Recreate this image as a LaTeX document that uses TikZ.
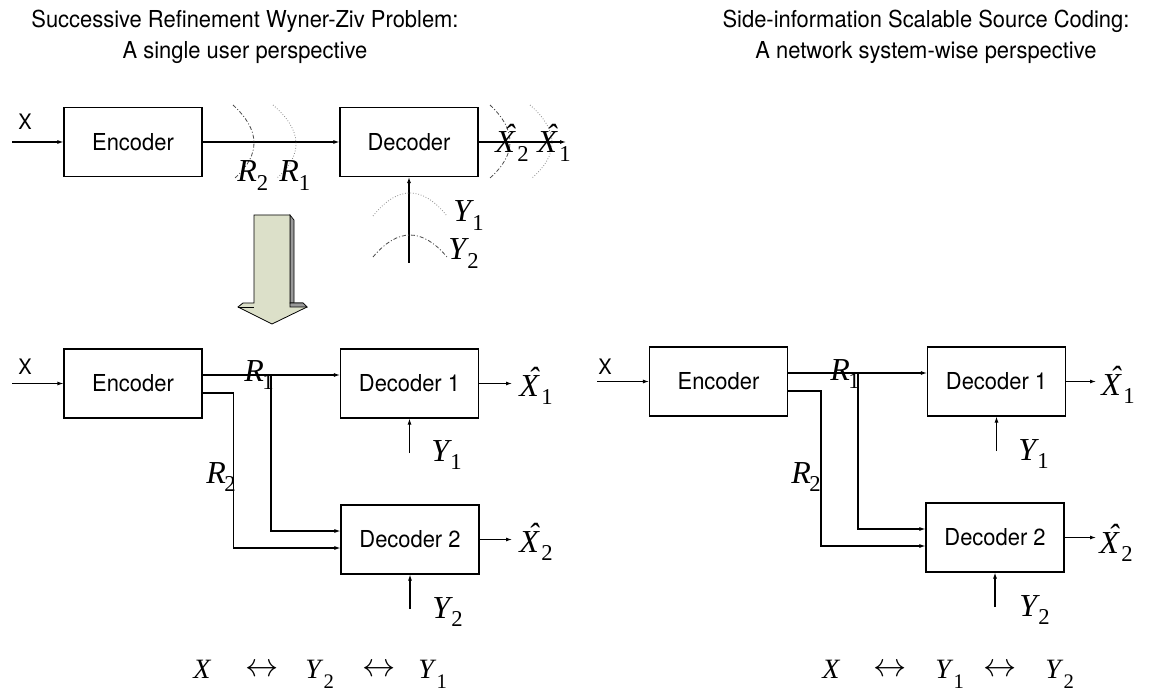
\documentclass[tikz,border=0pt]{standalone}
\usepackage{fontspec}
\setmainfont{Liberation Serif}
\newfontfamily\hv[FakeStretch=0.94]{TeX Gyre Heros}
\usetikzlibrary{arrows.meta}

% italic symbol with a lowered subscript
\newcommand\ml[3][1pt]{{\fontsize{24}{24}\selectfont\itshape #2}\kern#1\raisebox{-6.5pt}{\fontsize{17}{17}\selectfont #3}}
% variant for the Markov chains
\newcommand\mk[2]{{\fontsize{21}{21}\selectfont\itshape #1}\kern2pt\raisebox{-7.5pt}{\fontsize{15.5}{15.5}\selectfont #2}}
% X with a circumflex
\newcommand\hx{\makebox[0pt][l]{\hspace{0.27em}\raisebox{0.2em}{\char"02C6}}X}

\definecolor{arrowfill}{HTML}{DCE0C9}

\tikzset{
  blk/.style={draw, line width=0.8pt, minimum width=103.5pt, minimum height=51.75pt,
              inner sep=0pt, font=\hv\fontsize{17.5}{19}\selectfont},
  conn/.style={line width=0.8pt, -{Latex[length=4.5pt,width=3pt]}},
  lab/.style={anchor=base west, inner sep=0pt},
  sflab/.style={font=\hv\fontsize{16}{18}\selectfont, inner sep=0pt},
  ttl/.style={font=\hv\fontsize{17.5}{19}\selectfont, inner sep=0pt, anchor=base},
  dasharc/.style={line width=0.6pt, black!70, dash pattern=on 3pt off 1.5pt on 0.8pt off 1.5pt},
  dotarc/.style={line width=0.6pt, black!45, dash pattern=on 0.6pt off 1.4pt},
  arrsym/.style={inner sep=0pt, font=\fontsize{26}{26}\selectfont}
}

\begin{document}
\begin{tikzpicture}[x=0.75pt,y=-0.75pt]
\fill[white] (0,0) rectangle (1159,691);
\useasboundingbox (0,0) rectangle (1159,691);

% ---------- titles ----------
\node[ttl] at (245,28) {Successive Refinement Wyner-Ziv Problem:};
\node[ttl] at (245,59) {A single user perspective};
\node[ttl] at (926,28) {Side-information Scalable Source Coding:};
\node[ttl] at (926,59) {A network system-wise perspective};

% ---------- single user system ----------
\node[blk] (enc1) at (133,142) {Encoder};
\node[blk] (dec1) at (409,142) {Decoder};
\coordinate (x1) at (12,142);
\coordinate (out1) at (566,142);
\coordinate (y1src) at (409,263);
\draw[conn] (x1) -- (enc1);
\draw[conn] (enc1) -- (dec1);
\draw[conn] (dec1) -- (out1);
\draw[conn] (y1src) -- (dec1);

% rate and reconstruction layers
\draw[dasharc] (233,105) .. controls (260.3,130) and (261,154.3) .. (235,178);
\draw[dotarc]  (273,105) .. controls (302.3,130) and (303.7,154.3) .. (277,178);
\draw[dasharc] (490,105) .. controls (516.7,130) and (516.7,154.3) .. (490,178);
\draw[dotarc]  (530,105) .. controls (558.7,130) and (559.3,154.3) .. (532,178);
\draw[dotarc]  (373,216) .. controls (397.7,185.3) and (422.3,185.3) .. (447,216);
\draw[dasharc] (373,257) .. controls (397.7,227.7) and (422.3,227.7) .. (447,257);

\node[sflab] at (25,122) {X};
\node[lab] at (237,182) {\ml[0pt]{R}{2}};
\node[lab] at (279,182) {\ml[0pt]{R}{1}};
\node[lab] at (495,153) {\ml[2pt]{\hx}{2}};
\node[lab] at (537,153) {\ml[2pt]{\hx}{1}};
\node[lab] at (453,222) {\ml{Y}{1}};
\node[lab] at (448,260) {\ml{Y}{2}};

% ---------- transition arrow ----------
\filldraw[fill=black!40, line width=0.5pt] (290,215) -- (294,220) -- (294,303) -- (290,303) -- cycle;
\filldraw[fill=arrowfill, line width=0.6pt]
  (254,215) -- (290,215) -- (290,303) -- (303,303) -- (307,307) -- (272,324)
  -- (238,307) -- (243,303) -- (254,303) -- cycle;
\filldraw[fill=black!40, line width=0.5pt] (290,303) -- (303,303) -- (307,307) -- (290,307) -- cycle;
\draw[line width=0.5pt] (238,307) -- (254,307);

% ---------- two decoders (left) ----------
\node[blk] (enc2) at (133,383.5) {Encoder};
\node[blk] (d21) at (409.5,383.5) {Decoder 1};
\node[blk] (d22) at (410,539.5) {Decoder 2};
\coordinate (x2) at (12,383.5);
\coordinate (b21) at (271,375);
\coordinate (b22) at (233.5,470);
\coordinate (o21) at (512,383.5);
\coordinate (o22) at (512,539.5);
\coordinate (y21) at (409.5,453);
\coordinate (y22) at (410,609);
\draw[conn] (x2) -- (enc2);
\draw[conn] (enc2.east |- b21) -- (d21.west |- b21);
\draw[conn] (b21) |- (d22.west |- 0,531);
\draw[conn] (enc2.east |- 0,393) -| (b22) |- (d22.west |- 0,548);
\draw[conn] (d21) -- (o21);
\draw[conn] (d22) -- (o22);
\draw[conn] (y21) -- (d21);
\draw[conn] (y22) -- (d22);

\node[sflab] at (25,367) {X};
\node[lab] at (244,381) {\ml[-1pt]{R}{1}};
\node[lab] at (206,483) {\ml[-1pt]{R}{2}};
\node[lab] at (519,396) {\ml[2pt]{\hx}{1}};
\node[lab] at (519,552) {\ml[2pt]{\hx}{2}};
\node[lab] at (431,461) {\ml{Y}{1}};
\node[lab] at (432,618) {\ml{Y}{2}};

% Markov chain (left)
\node[lab] at (193,678) {\mk{X}{}};
\node[arrsym] at (262.5,670) {$\leftrightarrow$};
\node[lab] at (305,678) {\mk{Y}{2}};
\node[arrsym] at (379.5,670) {$\leftrightarrow$};
\node[lab] at (418,678) {\mk{Y}{1}};

% ---------- two decoders (right) ----------
\node[blk] (enc3) at (718.5,381.5) {Encoder};
\node[blk] (d31) at (996.5,381.5) {Decoder 1};
\node[blk] (d32) at (995,537.5) {Decoder 2};
\coordinate (x3) at (597,381.5);
\coordinate (b31) at (858,373);
\coordinate (b32) at (821,470);
\coordinate (o31) at (1096,381.5);
\coordinate (o32) at (1096,537.5);
\coordinate (y31) at (996.5,451);
\coordinate (y32) at (995,607);
\draw[conn] (x3) -- (enc3);
\draw[conn] (enc3.east |- b31) -- (d31.west |- b31);
\draw[conn] (b31) |- (d32.west |- 0,529);
\draw[conn] (enc3.east |- 0,391) -| (b32) |- (d32.west |- 0,546);
\draw[conn] (d31) -- (o31);
\draw[conn] (d32) -- (o32);
\draw[conn] (y31) -- (d31);
\draw[conn] (y32) -- (d32);

\node[sflab] at (605,367) {X};
\node[lab] at (830,380) {\ml[-1pt]{R}{1}};
\node[lab] at (791,483) {\ml[-1pt]{R}{2}};
\node[lab] at (1101,395) {\ml[2pt]{\hx}{1}};
\node[lab] at (1099,553) {\ml[2pt]{\hx}{2}};
\node[lab] at (1018,460) {\ml{Y}{1}};
\node[lab] at (1019,616) {\ml{Y}{2}};

% Markov chain (right)
\node[lab] at (822,678) {\mk{X}{}};
\node[arrsym] at (890,670) {$\leftrightarrow$};
\node[lab] at (935,678) {\mk{Y}{1}};
\node[arrsym] at (1000.5,670) {$\leftrightarrow$};
\node[lab] at (1045,678) {\mk{Y}{2}};
\end{tikzpicture}
\end{document}
